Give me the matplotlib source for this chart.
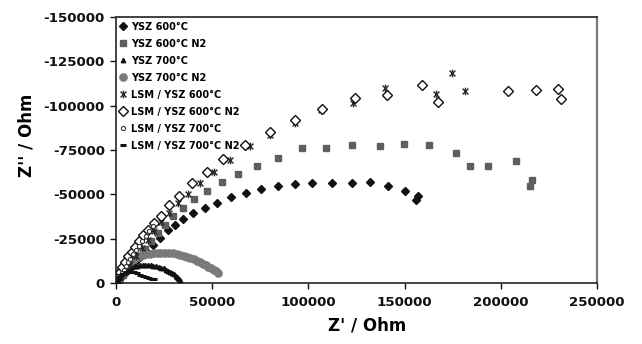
import matplotlib
matplotlib.use("Agg")
import matplotlib.pyplot as plt
from matplotlib.path import Path

plt.rcParams['font.family'] = ['DejaVu Sans']
plt.rcParams['font.weight'] = 'bold'
plt.rcParams['axes.unicode_minus'] = False

# Impedance spectra: Z' (real) and Z'' (imaginary), Ohm
ysz600_x = [600, 1800, 3300, 5200, 7400, 9900, 12700, 15800, 19300, 23100, 27200, 30800,
            35000, 40200, 46100, 52700, 59600, 67400, 75400, 84200, 93200, 102000, 112300,
            122500, 132000, 141500, 150000, 157000, 156000]
ysz600_y = [-700, -2100, -4000, -6300, -8800, -11600, -14700, -18000, -21500, -25500, -29900,
            -32600, -35900, -39300, -42100, -45300, -48300, -50900, -53200, -54700, -55800,
            -56200, -56200, -56300, -56700, -54500, -52000, -49000, -47000]

ysz600n2_x = [1600, 3600, 6200, 8800, 12000, 15100, 18200, 21800, 25500, 29800, 34700, 40500,
              47500, 54900, 63600, 73100, 84400, 96800, 109100, 122500, 137200, 149800,
              162700, 176600, 184000, 193500, 207900, 216200, 215200]
ysz600n2_y = [-1700, -4500, -7900, -11300, -15200, -19200, -23700, -28200, -32700, -37800,
              -42300, -47200, -52000, -56800, -61500, -66000, -70300, -76000, -76100, -77800,
              -77300, -78200, -78000, -73100, -65800, -65800, -68600, -58100, -54700]

ysz700_x = [400, 900, 1500, 2200, 3000, 3900, 4900, 6000, 7200, 8400, 9700, 11000, 12400,
            13800, 15200, 16600, 18000, 19400, 20800, 22200, 23500, 24800, 26000, 27200,
            28300, 29300, 30200, 31000, 31700, 32300, 32800, 33100]
ysz700_y = [-1500, -2800, -3900, -4900, -5800, -6600, -7300, -7900, -8500, -9000, -9400,
            -9700, -9900, -10000, -10100, -10100, -10000, -9800, -9500, -9100, -8700, -8200,
            -7600, -7000, -6300, -5600, -4900, -4200, -3500, -2800, -2200, -1700]

ysz700n2_x = [300, 800, 1500, 2300, 3200, 4200, 5300, 6500, 7800, 9200, 10700, 12300, 14000,
              15800, 17700, 19600, 21600, 23600, 25600, 27600, 29600, 31500, 33400, 35200,
              37000, 38700, 40400, 42000, 43600, 45100, 46600, 48000, 49400, 50700, 51900,
              53000]
ysz700n2_y = [-1500, -3200, -5000, -6600, -8100, -9400, -10600, -11700, -12700, -13600,
              -14400, -15100, -15700, -16200, -16600, -16900, -17000, -17100, -17000, -16900,
              -16700, -16400, -16000, -15500, -14900, -14200, -13400, -12600, -11800, -10900,
              -10000, -9100, -8200, -7300, -6500, -5700]

lsm600_x = [2100, 4700, 7300, 10400, 13500, 16600, 19800, 23400, 27700, 32100, 37600, 43700,
            50900, 59300, 69600, 80000, 93200, 106400, 123300, 139800, 166500, 174500, 181400]
lsm600_y = [-2800, -6800, -10700, -15200, -19700, -24200, -29300, -34400, -39300, -44900,
            -50000, -56200, -62800, -69400, -77300, -83500, -90400, -97600, -101300, -109800,
            -106600, -118600, -108300]

lsm600n2_x = [1000, 2100, 3100, 4700, 6200, 8200, 9900, 12100, 14200, 16800, 19900, 23400,
              27700, 32700, 39300, 47100, 55800, 67000, 80000, 93000, 107200, 124200, 140700,
              158900, 167500, 203600, 218400, 229700, 231300]
lsm600n2_y = [-3400, -6200, -9000, -11800, -15200, -17600, -20500, -23900, -27100, -29900,
              -33700, -38000, -44000, -49100, -56200, -62800, -69800, -77700, -85300, -91900,
              -97900, -104200, -106000, -111700, -102200, -108300, -108700, -109400, -103800]

lsm700_x = [500, 1200, 2000, 2900, 3900, 5000, 6200, 7500, 8900, 10400, 12000, 13700, 15500,
            17400, 19400]
lsm700_y = [-1000, -2400, -4000, -5700, -7500, -9500, -11600, -13800, -16100, -18500, -21000,
            -23600, -26300, -29100, -32000]

lsm700n2_x = [300, 800, 1500, 2500, 3500, 5000, 6500, 8000, 9500, 11000, 12500, 14000, 15500,
              17000, 18500, 20000]
lsm700n2_y = [-800, -2000, -3300, -4500, -5300, -6000, -6300, -6300, -6000, -5400, -4700,
              -3900, -3200, -2600, -2200, -2000]

x_ticks = [0, 50000, 100000, 150000, 200000, 250000]
y_ticks = [0, -25000, -50000, -75000, -100000, -125000, -150000]

# "x" crossed by a vertical bar
star = Path([(-1, -1), (1, 1), (-1, 1), (1, -1), (0, -1.3), (0, 1.3)],
            [Path.MOVETO, Path.LINETO, Path.MOVETO, Path.LINETO, Path.MOVETO, Path.LINETO])

fig = plt.figure(figsize=(6.42, 3.44), dpi=100)
ax = fig.add_axes([116 / 642, 61 / 344, 481 / 642, 266 / 344])

common = dict(linestyle='none')
ax.plot(ysz600_x, ysz600_y, marker='D', ms=4.2, color='#111111', mec='#111111',
        label='YSZ 600°C', **common)
ax.plot(ysz600n2_x, ysz600n2_y, marker='s', ms=4.6, color='#5e5e5e', mec='#5e5e5e',
        label='YSZ 600°C N2', **common)
ax.plot(ysz700_x, ysz700_y, marker='^', ms=3.2, color='#111111', mec='#111111',
        label='YSZ 700°C', **common)
ax.plot(ysz700n2_x, ysz700n2_y, marker='o', ms=5.2, color='#7a7a7a', mec='#7a7a7a',
        label='YSZ 700°C N2', **common)
ax.plot(lsm600_x, lsm600_y, marker=star, ms=5.5, color='#2a2a2a', mew=1.0,
        label='LSM / YSZ 600°C', **common)
ax.plot(lsm600n2_x, lsm600n2_y, marker='D', ms=4.6, mfc='white', mec='#111111', mew=1.0,
        label='LSM / YSZ 600°C N2', **common)
ax.plot(lsm700_x, lsm700_y, marker='o', ms=3.0, mfc='white', mec='#333333', mew=0.8,
        label='LSM / YSZ 700°C', **common)
ax.plot(lsm700n2_x, lsm700n2_y, marker='_', ms=4.5, color='#111111', mew=2.2,
        label='LSM / YSZ 700°C N2', **common)

ax.set_xlim(0, 250000)
ax.set_ylim(0, -150000)
ax.set_xticks(x_ticks)
ax.set_yticks(y_ticks)
ax.set_xticklabels([str(v) for v in x_ticks])
ax.set_yticklabels([str(v) for v in y_ticks])
ax.tick_params(direction='out', length=4, width=1, labelsize=9.6, colors='#111111')
ax.tick_params(axis='x', pad=5)
ax.tick_params(axis='y', pad=4)

for side in ('left', 'bottom'):
    ax.spines[side].set_color('#111111')
    ax.spines[side].set_linewidth(1.1)
ax.spines['top'].set_color('#333333')
ax.spines['top'].set_linewidth(1.3)
ax.spines['right'].set_color('#777777')
ax.spines['right'].set_linewidth(1.6)

ax.set_xlabel("Z' / Ohm", fontsize=12, fontweight='bold')
ax.set_ylabel("Z'' / Ohm", fontsize=12, fontweight='bold')
ax.xaxis.set_label_coords(0.522, -0.125)
ax.yaxis.set_label_coords(-0.168, 0.556)

leg = ax.legend(loc='upper left', bbox_to_anchor=(-0.003, 1.0), frameon=False,
                prop={'size': 7.0, 'weight': 'bold'}, handlelength=0.7,
                handletextpad=0.45, labelspacing=0.72, borderaxespad=0.3,
                markerscale=1.0, borderpad=0.2)

fig.savefig('out.png', dpi=100)
